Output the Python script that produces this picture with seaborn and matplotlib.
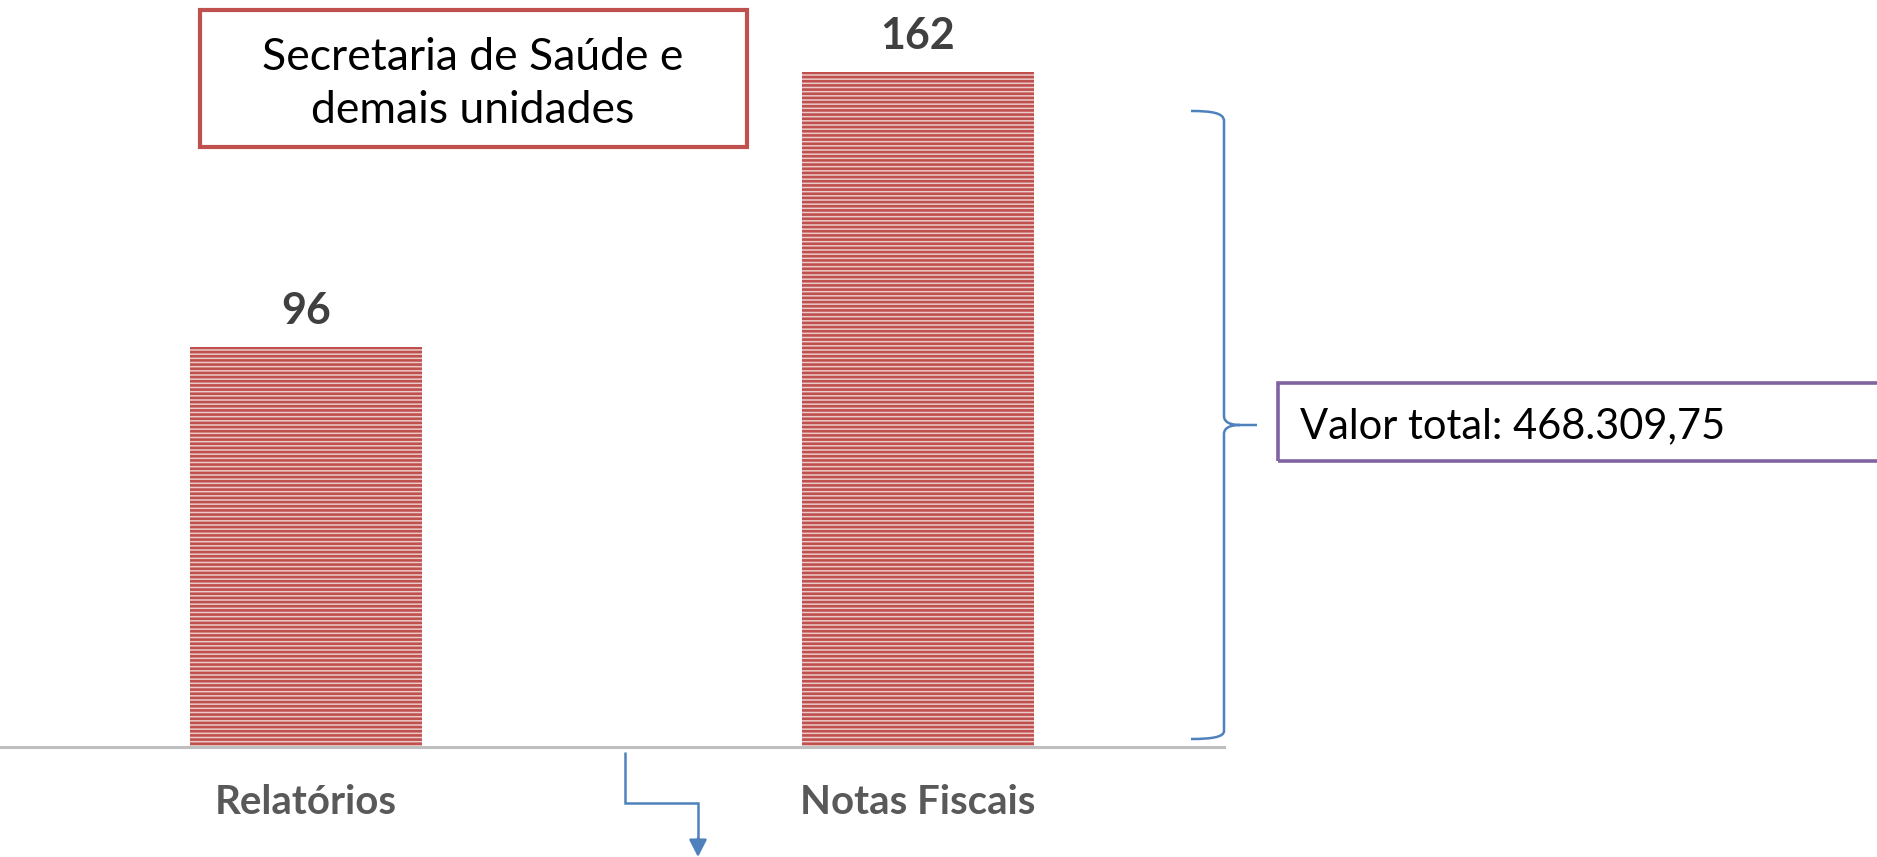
import numpy as np
import pandas as pd
import matplotlib
matplotlib.use("Agg")
import matplotlib.pyplot as plt
from matplotlib.patches import Rectangle, PathPatch
from matplotlib.path import Path
import seaborn as sns

# data
categories = ["Relatórios", "Notas Fiscais"]
counts = [96, 162]
title_lines = ["Secretaria de Saúde e", "demais unidades"]
total_label = "Valor total: 468.309,75"

W, H = 1877, 857

def fx(x):
    return x / W

def fy(y):
    # pixel from top -> figure fraction
    return 1 - y / H

sns.set_style("white")
plt.rcParams["font.family"] = ["Lato", "DejaVu Sans"]
plt.rcParams["hatch.linewidth"] = 1.9
plt.rcParams["hatch.color"] = "#C0504D"

df = pd.DataFrame({"tipo": categories, "qtd": counts})

fig = plt.figure(figsize=(W / 100, H / 100), dpi=100)
ax = fig.add_axes([0, fy(747), fx(1224), (737) / H])

sns.barplot(data=df, x="tipo", y="qtd", ax=ax, width=0.38, color="#EBCBCA",
            saturation=1, edgecolor="#C0504D", linewidth=0, hatch="----")

ax.set_xlim(-0.5, 1.5)
ax.set_ylim(0, 177)
ax.bar_label(ax.containers[0], fontsize=31, fontweight="bold", color="#404040", padding=12)

ax.set_xlabel("")
ax.set_ylabel("")
ax.set_yticks([])
ax.tick_params(axis="x", length=0, pad=27, labelsize=29, labelcolor="#595959")
for lbl in ax.get_xticklabels():
    lbl.set_fontweight("bold")
for s in ["left", "top", "right"]:
    ax.spines[s].set_visible(False)
ax.spines["bottom"].set_color("#BFBFBF")
ax.spines["bottom"].set_linewidth(2.2)

# title box
fig.add_artist(Rectangle((fx(200), fy(147)), fx(747) - fx(200), fy(10) - fy(147),
                         transform=fig.transFigure, fill=False, edgecolor="#C0504D", linewidth=3))
fig.text(fx(473), fy(70), title_lines[0], ha="center", va="baseline", fontsize=32, color="black")
fig.text(fx(473), fy(123), title_lines[1], ha="center", va="baseline", fontsize=32, color="black")

# total box
fig.add_artist(Rectangle((fx(1278), fy(461)), fx(1900) - fx(1278), fy(383) - fy(461),
                         transform=fig.transFigure, fill=False, edgecolor="#8064A2", linewidth=2.6,
                         clip_on=False))
fig.text(fx(1300), fy(438), total_label, ha="left", va="baseline", fontsize=30, color="black")

# brace
verts = [(1191, 111), (1212, 111), (1224, 113), (1224, 121),
         (1224, 416),
         (1224, 422), (1230, 425), (1240, 425),
         (1257, 425),
         (1240, 425),
         (1230, 425), (1224, 428), (1224, 434),
         (1224, 731),
         (1224, 737), (1212, 739), (1191, 739)]
codes = [Path.MOVETO, Path.CURVE4, Path.CURVE4, Path.CURVE4,
         Path.LINETO,
         Path.CURVE4, Path.CURVE4, Path.CURVE4,
         Path.LINETO,
         Path.MOVETO,
         Path.CURVE4, Path.CURVE4, Path.CURVE4,
         Path.LINETO,
         Path.CURVE4, Path.CURVE4, Path.CURVE4]
brace = Path([(fx(x), fy(y)) for x, y in verts], codes)
fig.add_artist(PathPatch(brace, transform=fig.transFigure, fill=False,
                         edgecolor="#4F81BD", linewidth=1.8, capstyle="butt"))

# elbow arrow below axis
elbow = Path([(fx(625), fy(752)), (fx(625), fy(803)), (fx(698), fy(803)), (fx(698), fy(842))],
             [Path.MOVETO, Path.LINETO, Path.LINETO, Path.LINETO])
fig.add_artist(PathPatch(elbow, transform=fig.transFigure, fill=False,
                         edgecolor="#4F81BD", linewidth=1.8))
ax.annotate("", xy=(698, H - 857), xytext=(698, H - 838), xycoords="figure pixels",
            textcoords="figure pixels", annotation_clip=False,
            arrowprops=dict(arrowstyle="-|>,head_length=0.7,head_width=0.36", mutation_scale=15,
                            color="#4F81BD", lw=1.8, shrinkA=0, shrinkB=0))

fig.savefig("out.png", dpi=100)
